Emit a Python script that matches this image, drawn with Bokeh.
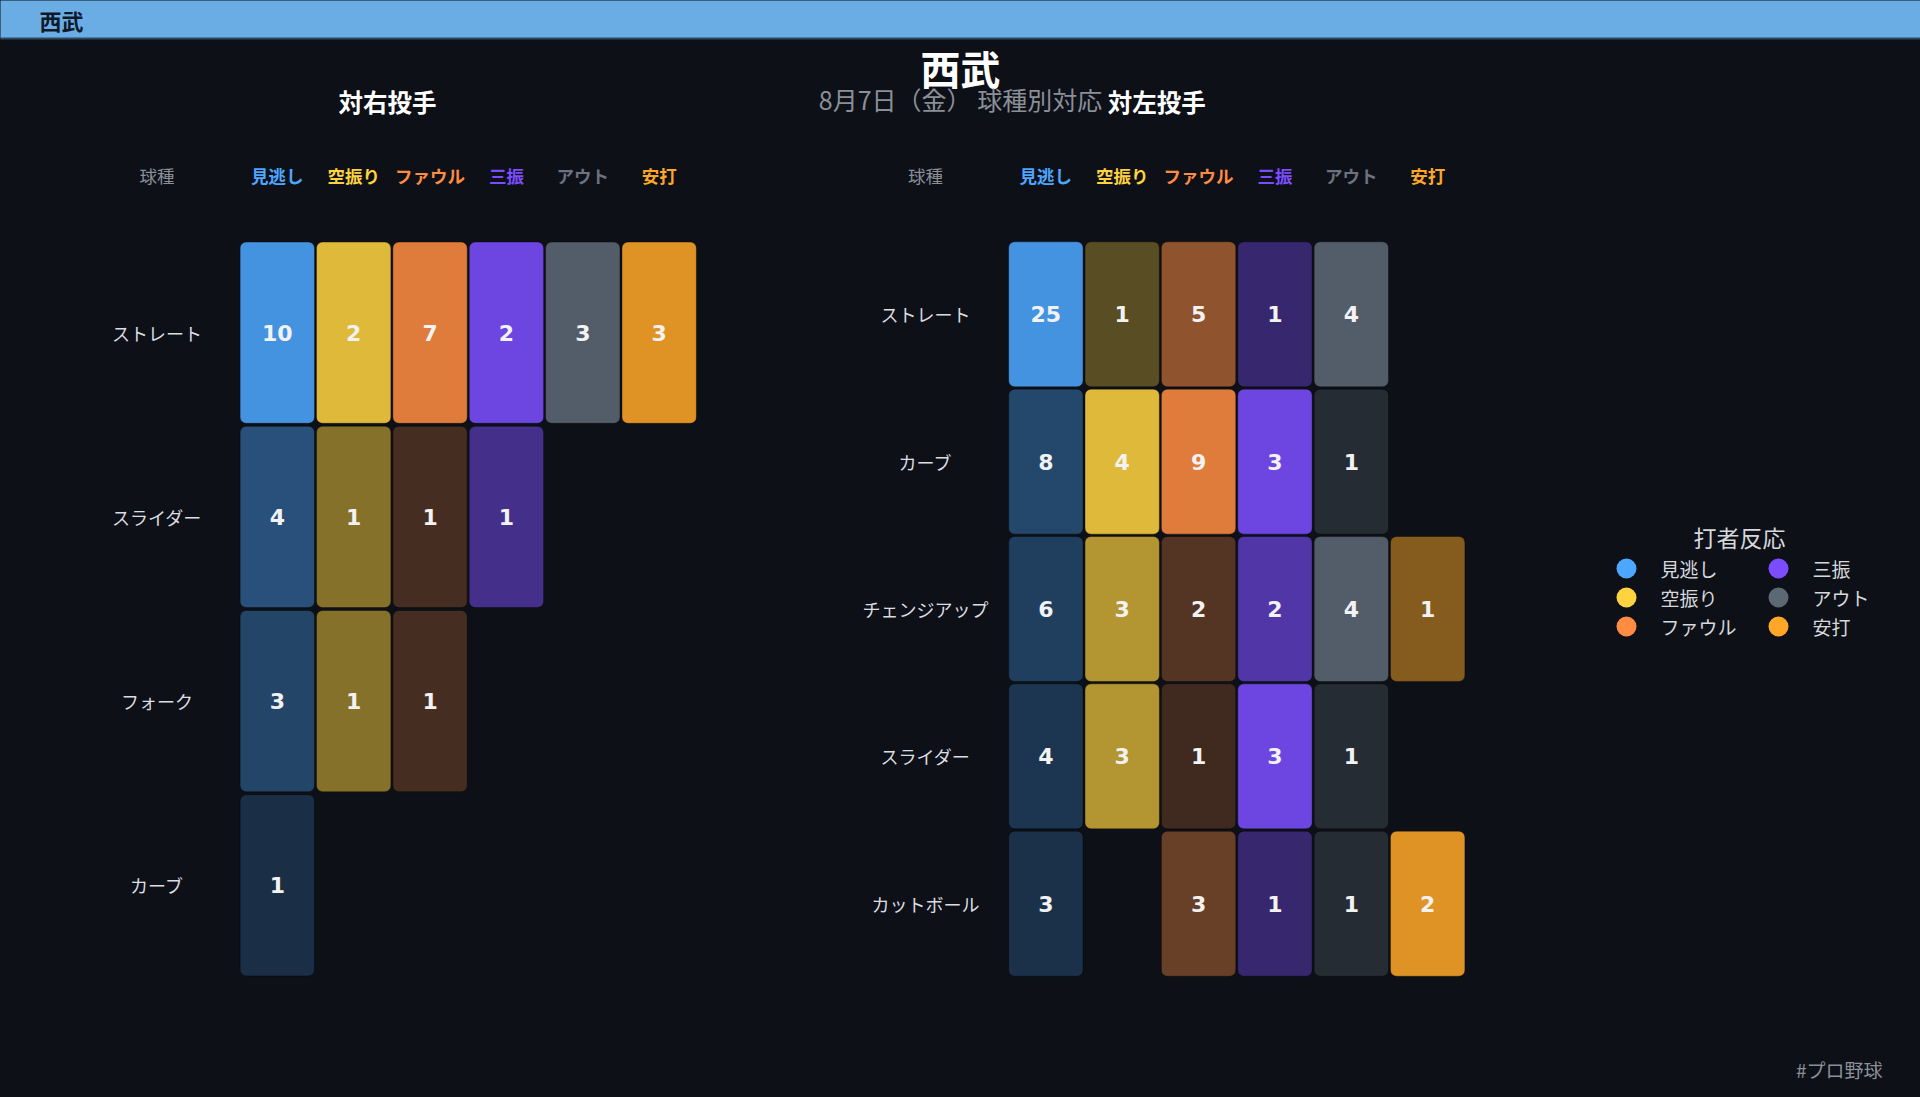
from bokeh.plotting import figure
from bokeh.layouts import column, row
from bokeh.models import ColumnDataSource, FactorRange, Range1d, CategoricalScale
from bokeh.transform import dodge
from bokeh.core.properties import value
from bokeh.embed import file_html
from bokeh.resources import INLINE

# ---------------- data ----------------
TEAM = "西武"
SUBTITLE = "8月7日（金） 球種別対応"
HASHTAG = "#プロ野球"
LEGEND_TITLE = "打者反応"
PITCH_HEADER = "球種"

reactions = ["見逃し", "空振り", "ファウル", "三振", "アウト", "安打"]
reaction_colors = ["#4da6ff", "#ffd23f", "#ff8c42", "#7c4dff", "#5d6875", "#ffa726"]
header_colors = ["#4da6ff", "#ffd23f", "#ff8c42", "#7c4dff", "#6b7280", "#ffa726"]

vs_right_title = "対右投手"
vs_right_pitches = ["ストレート", "スライダー", "フォーク", "カーブ"]
vs_right_counts = [
    [10, 2, 7, 2, 3, 3],
    [4, 1, 1, 1, 0, 0],
    [3, 1, 1, 0, 0, 0],
    [1, 0, 0, 0, 0, 0],
]

vs_left_title = "対左投手"
vs_left_pitches = ["ストレート", "カーブ", "チェンジアップ", "スライダー", "カットボール"]
vs_left_counts = [
    [25, 1, 5, 1, 4, 0],
    [8, 4, 9, 3, 1, 0],
    [6, 3, 2, 2, 4, 1],
    [4, 3, 1, 3, 1, 0],
    [3, 0, 3, 1, 1, 2],
]

# ---------------- style / layout (pixels) ----------------
BG = "#0d1017"
BAR = "#6aade4"
JP = value("Noto Sans CJK JP")
NUM = value("DejaVu Sans")
BGSTYLE = {"background-color": BG}
W, H = 1920, 1097
TOP_H = 138                 # title band
CELLS_X0, CELLS_X1 = 238, 1465   # left edge of first grid .. right edge of second grid
COL_W = 76.3                # width of one reaction column
PANEL_GAP = 310             # gap between the two grids
CELLS_Y0, CELLS_Y1 = 240, 976
MAIN_W = 1597
MAIN_ML = 107
MAIN_MB = 18
LABEL_GAP = 82              # cells' left edge -> row label centre
HEADER_GAP = 65             # cells' top edge -> header centre
TITLE_SHIFT = 149           # cells' left edge -> panel title centre

# derived range settings (synthetic units)
GROUP_PAD = PANEL_GAP / COL_W
span_units = 2 * len(reactions) + GROUP_PAD
frame_w = MAIN_W - MAIN_ML
XPAD = 2 * ((frame_w - (CELLS_X1 - CELLS_X0)) / 2 / COL_W) / span_units
FRAME_H = CELLS_Y1 - CELLS_Y0
YPAD = 2 * (CELLS_Y0 - TOP_H) / FRAME_H
MAIN_H = H - TOP_H


def bfig(**kw):
    f = figure(x_axis_location=None, y_axis_location=None,
               output_backend="svg", toolbar_location=None,
               background_fill_color=BG, border_fill_color=BG,
               outline_line_color=None, styles=BGSTYLE, **kw)
    f.grid.visible = False
    return f


x_factors = [(t, r) for t in (vs_right_title, vs_left_title) for r in reactions]
xr = FactorRange(*x_factors, group_padding=GROUP_PAD,
                 range_padding=XPAD, range_padding_units="percent")
yr_right = FactorRange(*reversed(vs_right_pitches), range_padding=YPAD, range_padding_units="percent")
yr_left = FactorRange(*reversed(vs_left_pitches), range_padding=YPAD, range_padding_units="percent")

main = bfig(width=MAIN_W, height=MAIN_H, x_range=xr, y_range=yr_right,
            min_border_left=MAIN_ML, min_border_right=0,
            min_border_top=0, min_border_bottom=MAIN_MB)
main.extra_y_ranges = {"vsL": yr_left}
main.extra_y_scales = {"vsL": CategoricalScale()}


def draw_panel(title, pitches, counts, yr, yname):
    n = len(pitches)
    row_h = FRAME_H / n
    col_max = [max(c[j] for c in counts) for j in range(len(reactions))]
    xs, ys, vs, cs, als = [], [], [], [], []
    for i, pitch in enumerate(pitches):
        for j, r in enumerate(reactions):
            v = counts[i][j]
            if v <= 0:
                continue
            xs.append((title, r))
            ys.append(pitch)
            vs.append(str(v))
            cs.append(reaction_colors[j])
            als.append(0.87 * (0.15 + 0.85 * v / col_max[j]))
    src = ColumnDataSource(dict(x=xs, y=ys, v=vs, color=cs, alpha=als))
    kw = {} if yname is None else {"y_range_name": yname}
    main.quad(left=dodge("x", -0.487, range=xr), right=dodge("x", 0.487, range=xr),
              top=dodge("y", 0.492, range=yr), bottom=dodge("y", -0.492, range=yr),
              source=src, fill_color="color", fill_alpha="alpha",
              line_color="#000000", line_alpha=0.35, line_width=1,
              border_radius=6, **kw)
    main.text(x="x", y="y", text="v", source=src,
              text_align="center", text_baseline="middle",
              text_font=NUM, text_font_style="bold",
              text_font_size="22px", text_color="#f2f2f2", **kw)

    label_dx = -(0.5 + LABEL_GAP / COL_W)
    header_dy = 0.5 + HEADER_GAP / row_h
    # row labels
    lab = ColumnDataSource(dict(x=[(title, reactions[0])] * n, y=pitches, t=pitches))
    main.text(x=dodge("x", label_dx, range=xr), y="y", text="t", source=lab,
              text_align="center", text_baseline="middle",
              text_font=JP, text_font_size="18px", text_color="#dcdde0", **kw)
    # "球種" header over the row-label column
    hx = ColumnDataSource(dict(x=[(title, reactions[0])], y=[pitches[0]], t=[PITCH_HEADER]))
    main.text(x=dodge("x", label_dx, range=xr), y=dodge("y", header_dy, range=yr), text="t",
              source=hx, text_align="center", text_baseline="middle",
              text_font=JP, text_font_size="17.5px", text_color="#8a8f98", **kw)
    # reaction headers
    hr = ColumnDataSource(dict(
        x=[(title, r) for r in reactions], y=[pitches[0]] * len(reactions),
        t=reactions, c=header_colors))
    main.text(x="x", y=dodge("y", header_dy, range=yr), text="t", source=hr,
              text_align="center", text_baseline="middle",
              text_font=JP, text_font_size="17.5px", text_font_style="bold",
              text_color="c", **kw)


draw_panel(vs_right_title, vs_right_pitches, vs_right_counts, yr_right, None)
draw_panel(vs_left_title, vs_left_pitches, vs_left_counts, yr_left, "vsL")

# ---------------- top band ----------------
top = bfig(width=W, height=TOP_H, x_range=Range1d(0, W), y_range=Range1d(TOP_H, 0), min_border=0)
top.quad(left=[-4], right=[W + 4], top=[-4], bottom=[38], fill_color=BAR, line_color=None)
top.segment(x0=[-4], x1=[W + 4], y0=[38], y1=[38], line_color="#2c4862", line_width=2)
top.text(x=[39], y=[19], text=[TEAM], text_align="left", text_baseline="middle",
         text_font=JP, text_font_style="bold", text_font_size="22px", text_color="#0e1a2b")
top.text(x=[W / 2], y=[67], text=[TEAM], text_align="center", text_baseline="middle",
         text_font=JP, text_font_style="bold", text_font_size="40px", text_color="#ffffff")
top.text(x=[W / 2], y=[98.5], text=[SUBTITLE], text_align="center", text_baseline="middle",
         text_font=JP, text_font_size="25px", text_color="#8a8f98")
top.text(x=[CELLS_X0 + TITLE_SHIFT, CELLS_X1 - 6 * COL_W + TITLE_SHIFT], y=[100.5, 100.5],
         text=[vs_right_title, vs_left_title], text_align="center", text_baseline="middle",
         text_font=JP, text_font_style="bold", text_font_size="24.5px", text_color="#ffffff")

# ---------------- legend + footer (page pixel coordinates) ----------------
LEG_W = W - MAIN_W
leg = bfig(width=LEG_W, height=MAIN_H, x_range=Range1d(MAIN_W, W),
           y_range=Range1d(H - MAIN_MB, TOP_H),
           min_border_left=0, min_border_right=0, min_border_top=0, min_border_bottom=MAIN_MB)
LX0, LDX, LY0, LDY = 1626, 152, 568, 29
idx = list(range(len(reactions)))
lx = [LX0 + (i // 3) * LDX for i in idx]
ly = [LY0 + (i % 3) * LDY for i in idx]
lsrc = ColumnDataSource(dict(x=lx, y=ly, tx=[v + 34 for v in lx], t=reactions, c=reaction_colors))
leg.scatter(x="x", y="y", source=lsrc, size=20, fill_color="c", line_color=None)
leg.text(x="tx", y="y", text="t", source=lsrc, text_align="left", text_baseline="middle",
         text_font=JP, text_font_size="19px", text_color="#d6d8dc")
leg.text(x=[LX0 + LDX / 2 + 37], y=[LY0 - 32], text=[LEGEND_TITLE], text_align="center",
         text_baseline="middle", text_font=JP, text_font_size="23px", text_color="#d6d8dc")
leg.text(x=[1882], y=[1069], text=[HASHTAG], text_align="right",
         text_baseline="middle", text_font=JP, text_font_size="19px", text_color="#8b9099")

layout = column(top, row(main, leg, spacing=0, styles=BGSTYLE), spacing=0, styles=BGSTYLE)

open("out.html", "w").write(file_html(layout, INLINE))
